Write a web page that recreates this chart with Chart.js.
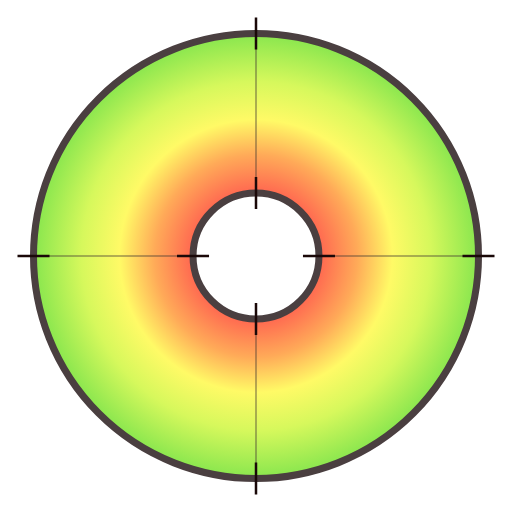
<!DOCTYPE html>
<html>
<head>
<meta charset="utf-8">
<script src="https://cdn.jsdelivr.net/npm/chart.js@4"></script>
<style>
  html, body { margin: 0; padding: 0; background: #fff; }
  #wrap { width: 512px; height: 512px; }
</style>
</head>
<body>
<div id="wrap"><canvas id="ring"></canvas></div>
<script>
// single full ring
const labels = ['Ring'];
const values = [1];
const cutoutPct = 28.3;
// colour stops from inner edge to outer edge
const stopPos = [0, 0.24, 0.46, 0.7, 1];
const stopColors = ['#ff6650', '#ffaa58', '#fffa66', '#d6f85c', '#88e64e'];

function ringGradient(context) {
  const chart = context.chart;
  const area = chart.chartArea;
  if (!area) return stopColors[2];
  const cx = (area.left + area.right) / 2;
  const cy = (area.top + area.bottom) / 2;
  const outer = Math.min(area.width, area.height) / 2;
  const inner = outer * cutoutPct / 100;
  const g = chart.ctx.createRadialGradient(cx, cy, inner, cx, cy, outer);
  stopPos.forEach((s, i) => g.addColorStop(s, stopColors[i]));
  return g;
}

// ring outlines, crosshair and tick marks
const crossPlugin = {
  id: 'cross',
  afterDatasetsDraw(chart) {
    const arc = chart.getDatasetMeta(0).data[0];
    const { x, y, innerRadius, outerRadius } = arc;
    const ctx = chart.ctx;
    ctx.save();
    ctx.strokeStyle = 'rgba(70,60,50,0.4)';
    ctx.lineWidth = 2;
    ctx.beginPath();
    ctx.moveTo(x - outerRadius, y); ctx.lineTo(x - innerRadius, y);
    ctx.moveTo(x + innerRadius, y); ctx.lineTo(x + outerRadius, y);
    ctx.moveTo(x, y - outerRadius); ctx.lineTo(x, y - innerRadius);
    ctx.moveTo(x, y + innerRadius); ctx.lineTo(x, y + outerRadius);
    ctx.stroke();
    ctx.strokeStyle = '#4a3f40';
    ctx.lineWidth = 7;
    [innerRadius, outerRadius].forEach(r => {
      ctx.beginPath();
      ctx.arc(x, y, r, 0, Math.PI * 2);
      ctx.stroke();
    });
    ctx.strokeStyle = '#1a0808';
    ctx.lineWidth = 2.5;
    const half = 16;
    ctx.beginPath();
    [innerRadius, outerRadius].forEach(r => {
      ctx.moveTo(x - r - half, y); ctx.lineTo(x - r + half, y);
      ctx.moveTo(x + r - half, y); ctx.lineTo(x + r + half, y);
      ctx.moveTo(x, y - r - half); ctx.lineTo(x, y - r + half);
      ctx.moveTo(x, y + r - half); ctx.lineTo(x, y + r + half);
    });
    ctx.stroke();
    ctx.restore();
  }
};

new Chart(document.getElementById('ring'), {
  type: 'doughnut',
  data: {
    labels: labels,
    datasets: [{
      data: values,
      backgroundColor: ringGradient,
      borderWidth: 0,
      hoverOffset: 0,
      offset: 0
    }]
  },
  options: {
    responsive: true,
    maintainAspectRatio: false,
    animation: false,
    cutout: cutoutPct + '%',
    layout: { padding: 33.5 },
    plugins: {
      legend: { display: false },
      tooltip: { enabled: false }
    },
    events: []
  },
  plugins: [crossPlugin]
});
</script>
</body>
</html>
